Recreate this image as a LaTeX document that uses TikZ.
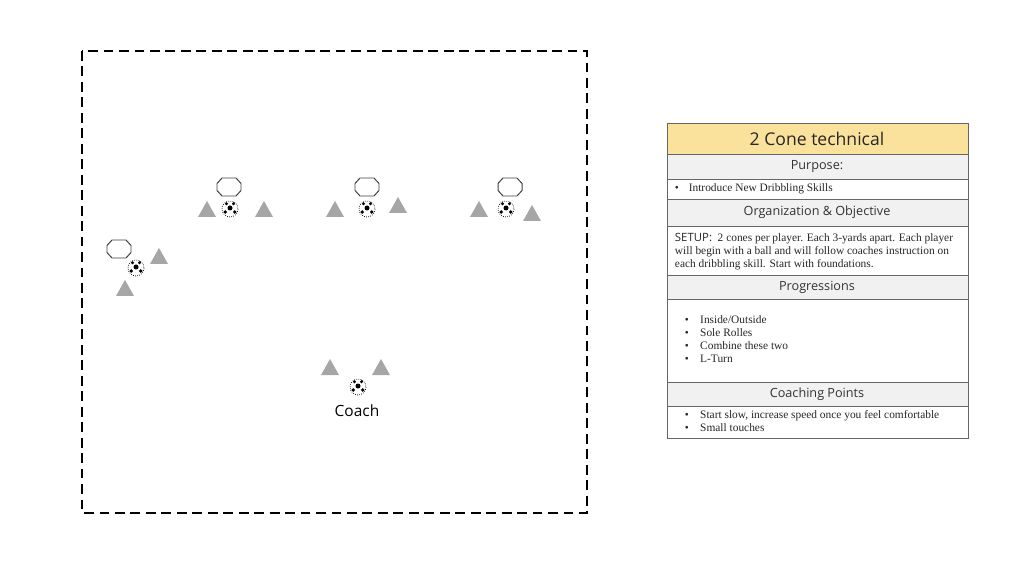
\documentclass[tikz,border=0pt]{standalone}
\usepackage{fontspec}
\setmainfont{Liberation Serif}
\newfontfamily\hdfont{Open Sans}
\usetikzlibrary{shapes.geometric}
\definecolor{titleyellow}{HTML}{FBE29C}
\definecolor{headgray}{HTML}{F1F1F1}
\definecolor{conegray}{HTML}{A6A6A6}
\tikzset{
  cone/.pic={\fill[conegray] (-9,8)--(9,8)--(0,-8)--cycle;},
  ball/.pic={\fill[white] (0,0) circle (8);
    \draw[densely dotted,line width=.5pt] (0,0) circle (8);
    \fill (0,-1) circle (2.5) (-4.8,3) circle (1.9) (4.8,3) circle (1.9)
      (-3.5,-5.3) circle (1.6) (3.5,-5.3) circle (1.6);},
  player/.pic={\draw[black!75,line width=.7pt,fill=white]
    (-12,-3.5)--(-7,-9)--(7,-9)--(12,-3.5)--(12,3.5)--(7,9)--(-7,9)--(-12,3.5)--cycle;},
  hdrow/.style={fill=headgray,draw=black!60},
  hdtext/.style={font=\hdfont\fontsize{9}{11}\selectfont,text=black!80},
  bodytext/.style={font=\fontsize{8.1}{9.3}\selectfont,text=black!85,align=left,anchor=west}
}
\begin{document}
\begin{tikzpicture}[x=0.025cm,y=-0.025cm]
  \useasboundingbox (0,0) rectangle (1024,576);
  % field
  \draw[dashed,line width=1.3pt,dash pattern=on 7pt off 4pt] (82,51) rectangle (587,513);
  % players, balls and cones
  \foreach \px/\py/\bx/\by/\ax/\ay/\cx/\cy [count=\i] in
    {229/187/230/209/207/209/264/209, 367/187/367/209/335/209/398/205,
     510/187/506/209/479/209/532/213, 119/249/136/268/159/256/125/288}{
    \pic at (\px,\py) {player};
    \pic at (\bx,\by) {ball};
    \pic at (\ax,\ay) {cone};
    \pic at (\cx,\cy) {cone};
  }
  % coach
  \pic at (330,367) {cone};
  \pic at (381,367) {cone};
  \pic at (358,387) {ball};
  \node[font=\hdfont\fontsize{11}{13}\selectfont] (coach) at (357,411) {Coach};
  % panel
  \fill[titleyellow] (667,123) rectangle (968,154);
  \draw[black!60] (667,123) rectangle (968,154);
  \node[font=\hdfont\fontsize{12.5}{15}\selectfont,text=black!85] (title) at (817,139) {2 Cone technical};
  \draw[hdrow] (667,154) rectangle (968,179);
  \node[hdtext] (purp) at (817,167) {Purpose:};
  \draw[black!60] (667,179) rectangle (968,199);
  \node[bodytext] (purpb) at (670,189) {\textbullet\hspace{7pt}Introduce New Dribbling Skills};
  \draw[hdrow] (667,199) rectangle (968,226);
  \node[hdtext] (org) at (817,212) {Organization \& Objective};
  \draw[black!60] (667,226) rectangle (968,275);
  \node[bodytext,text width=6.95cm,align=flush left] (orgb) at (670,252)
    {{\hdfont SETUP:}\ \ 2 cones per player. Each 3-yards apart. Each player will begin with a ball and will follow coaches instruction on each dribbling skill. Start with foundations.};
  \draw[hdrow] (667,275) rectangle (968,299);
  \node[hdtext] (prog) at (817,287) {Progressions};
  \draw[black!60] (667,299) rectangle (968,382);
  \node[bodytext] (progb) at (680,340) {\begin{tabular}{@{}l@{\hspace{8pt}}l@{}}
    \textbullet & Inside/Outside\\ \textbullet & Sole Rolles\\
    \textbullet & Combine these two\\ \textbullet & L-Turn\end{tabular}};
  \draw[hdrow] (667,382) rectangle (968,406);
  \node[hdtext] (coachp) at (817,394) {Coaching Points};
  \draw[black!60] (667,406) rectangle (968,438);
  \node[bodytext] (coachb) at (680,422) {\begin{tabular}{@{}l@{\hspace{8pt}}l@{}}
    \textbullet & Start slow, increase speed once you feel comfortable\\
    \textbullet & Small touches\end{tabular}};
\end{tikzpicture}
\end{document}
